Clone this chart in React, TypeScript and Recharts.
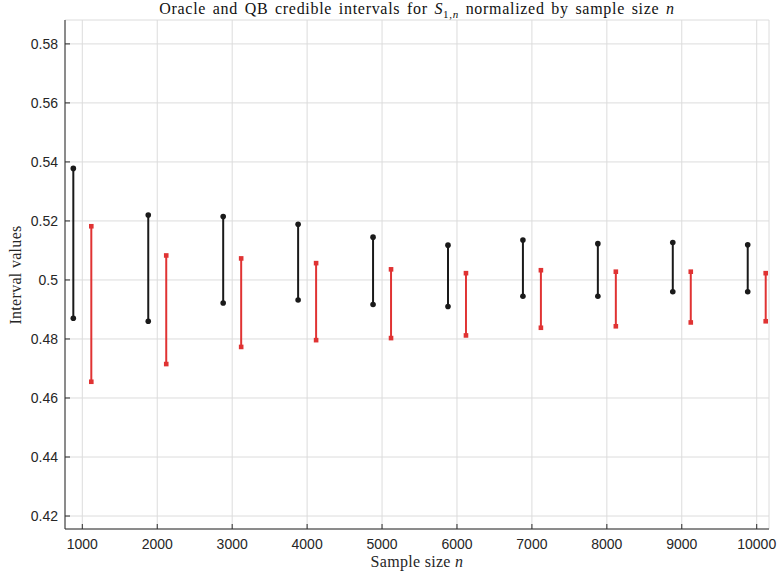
import React from 'react';
import {
  ComposedChart,
  Scatter,
  XAxis,
  YAxis,
  CartesianGrid,
} from 'recharts';

// sample sizes (x ticks) and interval bounds
const sampleSizes = [1000, 2000, 3000, 4000, 5000, 6000, 7000, 8000, 9000, 10000];
const oracleLower = [0.487, 0.486, 0.4922, 0.4932, 0.4917, 0.491, 0.4945, 0.4945, 0.496, 0.496];
const oracleUpper = [0.5378, 0.522, 0.5215, 0.5189, 0.5145, 0.5118, 0.5135, 0.5123, 0.5127, 0.5119];
const qbLower = [0.4655, 0.4715, 0.4773, 0.4796, 0.4803, 0.4812, 0.4838, 0.4843, 0.4856, 0.486];
const qbUpper = [0.5182, 0.5083, 0.5073, 0.5057, 0.5036, 0.5023, 0.5033, 0.5028, 0.5028, 0.5023];
const yTicks = [0.42, 0.44, 0.46, 0.48, 0.5, 0.52, 0.54, 0.56, 0.58];

const W = 777;
const H = 579;
const X_DOMAIN: [number, number] = [769, 10164];
const Y_DOMAIN: [number, number] = [0.4156, 0.5881];
const SHIFT = 120; // side-by-side offset of the two interval types

const BLACK = '#1a1a1a';
const RED = '#e03333';
const AXIS = '#2b2b2b';
const GRID = '#dcdcdc';
const serif = '"Liberation Serif", "Times New Roman", serif';
const sans = '"Liberation Sans", Arial, sans-serif';

const oracleSets = sampleSizes.map((n, i) => [
  { n: n - SHIFT, v: oracleLower[i] },
  { n: n - SHIFT, v: oracleUpper[i] },
]);
const qbSets = sampleSizes.map((n, i) => [
  { n: n + SHIFT, v: qbLower[i] },
  { n: n + SHIFT, v: qbUpper[i] },
]);

const Dot = (props: any) => <circle cx={props.cx} cy={props.cy} r={2.8} fill={BLACK} />;
const Sq = (props: any) => (
  <rect x={props.cx - 2.3} y={props.cy - 2.3} width={4.6} height={4.6} fill={RED} />
);

const fmtY = (v: number) => String(Number(v.toFixed(2)));
const tickStyle = { fontFamily: sans, fontSize: 14, fill: '#262626' };

export default function App() {
  return (
    <div style={{ position: 'absolute', left: 0, top: 0, width: W, height: H, background: '#fff' }}>
      <ComposedChart width={W} height={H} margin={{ top: 20, right: 8, bottom: 0, left: 0 }}>
        <CartesianGrid stroke={GRID} strokeWidth={1} />
        <XAxis
          type="number"
          dataKey="n"
          domain={X_DOMAIN}
          ticks={sampleSizes}
          allowDataOverflow
          height={50}
          tickSize={-5}
          tickMargin={15}
          stroke={AXIS}
          tick={tickStyle}
        />
        <XAxis
          xAxisId="top"
          orientation="top"
          type="number"
          domain={X_DOMAIN}
          ticks={sampleSizes}
          allowDataOverflow
          height={0}
          tickSize={-5}
          tick={false}
          stroke={AXIS}
        />
        <YAxis
          type="number"
          dataKey="v"
          domain={Y_DOMAIN}
          ticks={yTicks}
          allowDataOverflow
          width={65}
          tickSize={-5}
          tickMargin={12}
          tickFormatter={fmtY}
          stroke={AXIS}
          tick={tickStyle}
        />
        <YAxis
          yAxisId="right"
          orientation="right"
          type="number"
          domain={Y_DOMAIN}
          ticks={yTicks}
          allowDataOverflow
          width={0}
          tickSize={-5}
          tick={false}
          stroke={AXIS}
        />
        {oracleSets.map((d, i) => (
          <Scatter
            key={'o' + i}
            data={d}
            line={{ stroke: BLACK, strokeWidth: 2 }}
            shape={Dot}
            isAnimationActive={false}
          />
        ))}
        {qbSets.map((d, i) => (
          <Scatter
            key={'q' + i}
            data={d}
            line={{ stroke: RED, strokeWidth: 2 }}
            shape={Sq}
            isAnimationActive={false}
          />
        ))}
      </ComposedChart>

      <div
        style={{
          position: 'absolute', left: 65, width: 704, top: 1, textAlign: 'center',
          fontFamily: serif, fontSize: 16, lineHeight: '16px', letterSpacing: 0.7,
          wordSpacing: 2, color: '#111', whiteSpace: 'nowrap',
        }}
      >
        Oracle and QB credible intervals for <i>S</i>
        <sub style={{ fontSize: 11, lineHeight: 0 }}>1,<i>n</i></sub> normalized by sample size <i>n</i>
      </div>
      <div
        style={{
          position: 'absolute', left: 65, width: 704, top: 553, textAlign: 'center',
          fontFamily: serif, fontSize: 16, letterSpacing: 0.3, color: '#262626',
        }}
      >
        Sample size <i>n</i>
      </div>
      <div
        style={{
          position: 'absolute', left: 16, top: 275, width: 200, marginLeft: -100,
          textAlign: 'center', transform: 'translateY(-50%) rotate(-90deg)',
          fontFamily: serif, fontSize: 16, letterSpacing: 0.3, color: '#262626', whiteSpace: 'nowrap',
        }}
      >
        Interval values
      </div>
    </div>
  );
}
